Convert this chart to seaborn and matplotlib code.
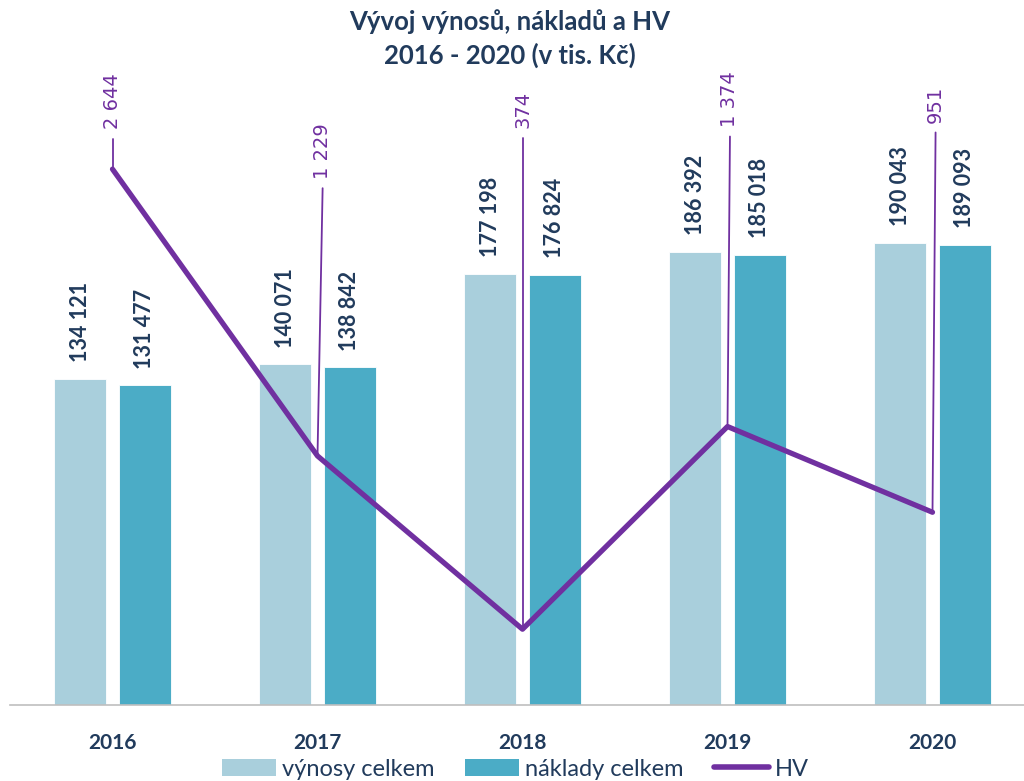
import numpy as np
import pandas as pd
import matplotlib
matplotlib.use('Agg')
import matplotlib.pyplot as plt
from matplotlib.patches import Patch
from matplotlib.lines import Line2D
import seaborn as sns

# data (v tis. Kč)
years = ['2016', '2017', '2018', '2019', '2020']
vynosy = [134121, 140071, 177198, 186392, 190043]
naklady = [131477, 138842, 176824, 185018, 189093]
hv = [2644, 1229, 374, 1374, 951]

# label layout for HV (x shift in categories, label bottom in HV units)
hv_lab_dx = [0.0, 0.025, 0.0, 0.012, 0.015]
hv_lab_y = [2840, 2595, 2845, 2850, 2870]

c_light = '#A9CFDC'
c_teal = '#4BACC6'
c_purple = '#7030A0'
c_text = '#213B5C'

sns.set_style('white')
plt.rcParams['font.family'] = ['Lato', 'DejaVu Sans']

def fmt(v):
    return f'{v:,}'.replace(',', ' ')

df = pd.DataFrame({
    'rok': years * 2,
    'hodnota': vynosy + naklady,
    'typ': ['výnosy celkem'] * len(years) + ['náklady celkem'] * len(years),
})

fig = plt.figure(figsize=(10.24, 7.81), dpi=100)
ax = fig.add_axes([10 / 1024, 76 / 781, 1025 / 1024, 608 / 781])

sns.barplot(data=df, x='rok', y='hodnota', hue='typ', order=years,
            hue_order=['výnosy celkem', 'náklady celkem'],
            palette=[c_light, c_teal], saturation=1, width=0.634, gap=0.2,
            edgecolor='white', linewidth=0.6, ax=ax, legend=False)

for cont in ax.containers:
    ax.bar_label(cont, labels=[fmt(int(v)) for v in cont.datavalues],
                 rotation=90, padding=12, fontsize=15.5, fontweight='bold',
                 color=c_text)

ax.set_xlim(-0.5, len(years) - 0.5)
ax.set_ylim(0, 250000)
ax.set_xlabel('')
ax.set_ylabel('')
ax.set_yticks([])
for s in ['top', 'left', 'right']:
    ax.spines[s].set_visible(False)
ax.spines['bottom'].set_color('#BFBFBF')
ax.spines['bottom'].set_linewidth(1.2)
ax.set_xticks(range(len(years)))
ax.set_xticklabels(years, fontsize=15, fontweight='bold', color=c_text)
ax.set_xticks(np.arange(-0.5, len(years)), minor=True)
ax.tick_params(axis='x', which='major', length=0, pad=20)
ax.tick_params(axis='x', which='minor', length=8, width=1.2,
               color='#BFBFBF', direction='out')

# HV on secondary axis
ax2 = ax.twinx()
xs = np.arange(len(years))
sns.lineplot(x=xs, y=hv, color=c_purple, linewidth=3.8, ax=ax2,
             solid_capstyle='round')
ax2.set_ylim(0, 3000)
ax2.set_yticks([])
for s in ax2.spines.values():
    s.set_visible(False)

for i, v in enumerate(hv):
    xl = i + hv_lab_dx[i]
    ax2.plot([i, xl], [v, hv_lab_y[i] - 45], color=c_purple, linewidth=1.3)
    ax2.text(xl, hv_lab_y[i], fmt(v), rotation=90, ha='center', va='bottom',
             fontsize=14, color=c_purple, family='DejaVu Sans')

fig.text(0.498, 1 - 9 / 781, 'Vývoj výnosů, nákladů a HV\n2016 - 2020 (v tis. Kč)',
         ha='center', va='top', fontsize=18.5, fontweight='bold',
         color=c_text, linespacing=1.4)

handles = [Patch(facecolor=c_light, edgecolor='none'),
           Patch(facecolor=c_teal, edgecolor='none'),
           Line2D([0], [0], color=c_purple, linewidth=4)]
fig.legend(handles, ['výnosy celkem', 'náklady celkem', 'HV'], loc='center',
           bbox_to_anchor=(0.503, 12 / 781), ncol=3, frameon=False,
           fontsize=17, handlelength=2.3, handleheight=0.7,
           handletextpad=0.25, columnspacing=1.3, labelcolor=c_text)

fig.savefig('out.png', dpi=100)
